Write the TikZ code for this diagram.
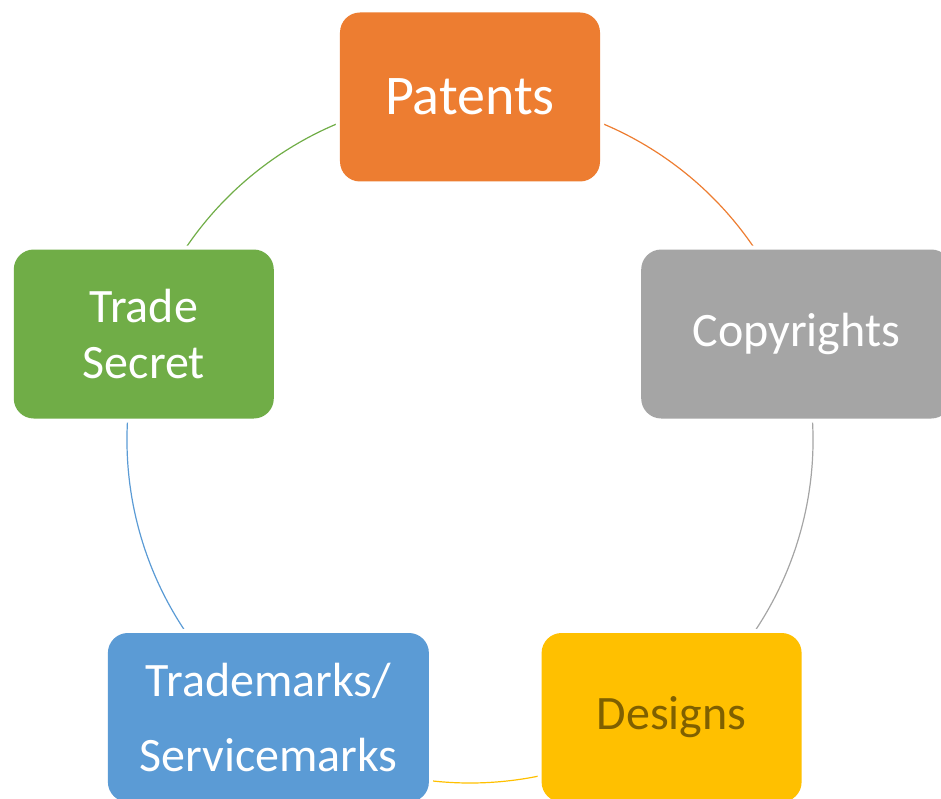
\documentclass[tikz,border=0pt]{standalone}
\usepackage{fontspec}
\setmainfont{Carlito}
\usetikzlibrary{backgrounds}
\definecolor{patorange}{HTML}{ED7D31}
\definecolor{copgray}{HTML}{A5A5A5}
\definecolor{desgold}{HTML}{FFC000}
\definecolor{tmblue}{HTML}{5B9BD5}
\definecolor{tsgreen}{HTML}{70AD47}
\definecolor{desbrown}{HTML}{7F6000}

\begin{document}
\begin{tikzpicture}[x=1pt,y=1pt,
    ipbox/.style={rounded corners=20pt, minimum width=260pt, minimum height=169pt,
        text=white, align=center, font=\fontsize{48}{56}\selectfont,
        preaction={draw=white, line width=8pt}},
    ring/.style={line width=1.2pt}]
    \useasboundingbox (-470,-358) rectangle (471,440);
    % the five boxes on the circle
    \node[ipbox, fill=patorange, font=\fontsize{56}{60}\selectfont] (pat) at (90:343pt) {Patents};
    \node[ipbox, fill=copgray, minimum width=310pt] (cop) at (18:343pt) {Copyrights};
    \node[ipbox, fill=desgold, text=desbrown] (des) at (-54:343pt) {Designs};
    \node[ipbox, fill=tmblue, minimum width=321pt, font=\fontsize{48}{75}\selectfont] (tm) at (-126:343pt) {Trademarks/\\Servicemarks};
    \node[ipbox, fill=tsgreen] (ts) at (162:343pt) {Trade\\Secret};
    % the ring
    \begin{scope}[on background layer]
        \draw[ring, patorange] (pat.center) arc[start angle=90, end angle=18, radius=343pt];
        \draw[ring, copgray] (cop.center) arc[start angle=18, end angle=-54, radius=343pt];
        \draw[ring, desgold] (des.center) arc[start angle=-54, end angle=-126, radius=343pt];
        \draw[ring, tmblue] (tm.center) arc[start angle=-126, end angle=-198, radius=343pt];
        \draw[ring, tsgreen] (ts.center) arc[start angle=162, end angle=90, radius=343pt];
    \end{scope}
\end{tikzpicture}
\end{document}
